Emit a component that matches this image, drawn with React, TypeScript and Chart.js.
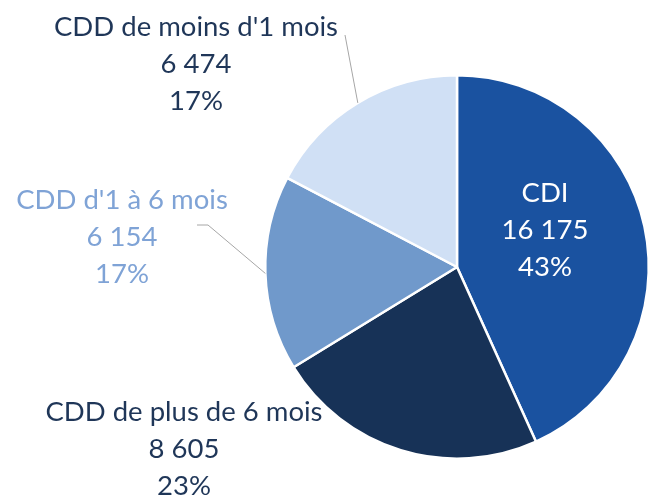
import React, { useEffect, useRef } from "react";
import { Chart, registerables } from "chart.js";

Chart.register(...registerables);

const categories = ["CDI", "CDD de plus de 6 mois", "CDD d'1 à 6 mois", "CDD de moins d'1 mois"];
const values = [16175, 8605, 6154, 6474];
const percentLabels = ["43%", "23%", "17%", "17%"];
const sliceColors = ["#1A52A0", "#173257", "#7099CB", "#D0E0F5"];
const labelColors = ["#FFFFFF", "#1F3658", "#7FA3D6", "#1F3658"];

const fmt = (v: number) => String(v).replace(/\B(?=(\d{3})+(?!\d))/g, " ");

// label anchors (centre of first line) and leader settings
const labelAnchors = [
  { x: 545, y: 193, leader: null as null | number[] },
  { x: 184, y: 412, leader: null as null | number[] },
  { x: 122, y: 200, leader: [197, 225, 208, 225] },
  { x: 196, y: 27, leader: [345, 35] },
];

const labelPlugin = {
  id: "pieLabels",
  afterDatasetsDraw(chart: any) {
    const ctx = chart.ctx;
    const meta = chart.getDatasetMeta(0);
    ctx.save();
    meta.data.forEach((arc: any, i: number) => {
      const a = labelAnchors[i];
      const { x, y, startAngle, endAngle, outerRadius } = arc.getProps(
        ["x", "y", "startAngle", "endAngle", "outerRadius"],
        true
      );
      if (a.leader) {
        const mid = (startAngle + endAngle) / 2;
        const ex = x + Math.cos(mid) * outerRadius;
        const ey = y + Math.sin(mid) * outerRadius;
        ctx.strokeStyle = "#A6A6A6";
        ctx.lineWidth = 1;
        ctx.beginPath();
        ctx.moveTo(a.leader[0], a.leader[1]);
        for (let k = 2; k < a.leader.length; k += 2) ctx.lineTo(a.leader[k], a.leader[k + 1]);
        ctx.lineTo(ex, ey);
        ctx.stroke();
      }
      const lines = [categories[i], fmt(values[i]), percentLabels[i]];
      ctx.fillStyle = labelColors[i];
      ctx.font = "27.5px Lato, 'Open Sans', sans-serif";
      ctx.textAlign = "center";
      ctx.textBaseline = "middle";
      lines.forEach((t, k) => ctx.fillText(t, a.x, a.y + k * 37));
    });
    ctx.restore();
  },
};

export default function App() {
  const ref = useRef<HTMLCanvasElement | null>(null);
  useEffect(() => {
    if (!ref.current) return;
    const chart = new Chart(ref.current, {
      type: "pie",
      data: {
        labels: categories,
        datasets: [
          {
            data: values,
            backgroundColor: sliceColors,
            borderColor: "#FFFFFF",
            borderWidth: 2.5,
          },
        ],
      },
      options: {
        responsive: false,
        animation: false,
        layout: { padding: { left: 264, right: 3, top: 74, bottom: 35 } },
        plugins: {
          legend: { display: false },
          tooltip: { enabled: false },
        },
      },
      plugins: [labelPlugin],
    });
    return () => chart.destroy();
  }, []);
  return (
    <div style={{ position: "fixed", left: 0, top: 0, width: 653, height: 495, background: "#fff" }}>
      <canvas ref={ref} width={653} height={495} style={{ width: 653, height: 495 }} />
    </div>
  );
}
